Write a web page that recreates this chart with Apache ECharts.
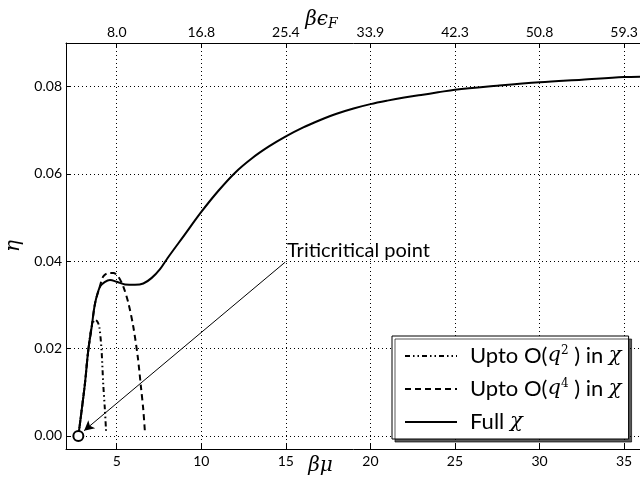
<!DOCTYPE html>
<html>
<head>
<meta charset="utf-8">
<script src="https://cdn.jsdelivr.net/npm/echarts@6.0.0/dist/echarts.min.js"></script>
<style>
  html, body { margin: 0; padding: 0; background: #fff; }
  #chart { width: 640px; height: 481px; }
</style>
</head>
<body>
<div id="chart"></div>
<script>
// bottom axis: beta*mu, top axis: beta*eps_F (same tick positions)
var muTicks = [5, 10, 15, 20, 25, 30, 35];
var epsLabels = ["8.0", "16.8", "25.4", "33.9", "42.3", "50.8", "59.3"];
var etaTicks = [0, 0.02, 0.04, 0.06, 0.08];

// Full chi
var muFull = [2.73, 2.93, 3.12, 3.32, 3.52, 3.72, 4.01, 4.31, 4.6, 5.0, 5.49, 6.08, 6.57, 7.07, 7.56, 8, 9, 10, 11, 12, 13, 14, 15, 16, 17, 18, 19, 20, 21, 22, 23, 24, 25, 27.5, 30, 32.5, 35, 36];
var etaFull = [0, 0.006, 0.012, 0.0197, 0.025, 0.0304, 0.0342, 0.0353, 0.0357, 0.0353, 0.0347, 0.0346, 0.0349, 0.0362, 0.0382, 0.0407, 0.046, 0.0513, 0.0561, 0.0603, 0.0636, 0.0663, 0.0686, 0.0706, 0.0723, 0.0738, 0.075, 0.076, 0.0768, 0.0775, 0.0781, 0.0787, 0.0793, 0.0802, 0.081, 0.0816, 0.0822, 0.0823];

// up to O(q^2)
var muQ2 = [2.73, 2.93, 3.12, 3.32, 3.52, 3.72, 3.85, 3.97, 4.1, 4.2, 4.3, 4.37];
var etaQ2 = [0, 0.006, 0.012, 0.0197, 0.025, 0.0266, 0.0262, 0.025, 0.0197, 0.012, 0.006, 0.001];

// up to O(q^4)
var muQ4 = [2.73, 2.93, 3.12, 3.32, 3.52, 3.72, 3.97, 4.2, 4.5, 4.8, 5.09, 5.39, 5.69, 5.98, 6.24, 6.43, 6.57, 6.67];
var etaQ4 = [0, 0.006, 0.012, 0.0197, 0.025, 0.0304, 0.0338, 0.0365, 0.0373, 0.0373, 0.0365, 0.0342, 0.0304, 0.025, 0.0182, 0.0113, 0.006, 0.0007];

var tricritical = [2.73, 0];
var arrowFrom = [14.96, 0.0398];
var arrowTo = [3.07, 0.0012];

var seriesNames = ["q2", "q4", "full"];
var legendText = {
  q2: "{a|Upto O(}{i|q}{s|2}{t| ) in }{i|χ}",
  q4: "{a|Upto O(}{i|q}{s|4}{t| ) in }{i|χ}",
  full: "{a|Full }{i|χ}"
};

function pairs(xs, ys) {
  return xs.map(function (x, i) { return [x, ys[i]]; });
}

var sans = "Lato";
var serif = "DejaVu Serif";

var axisCommon = {
  type: "value",
  nameMoveOverlap: false,
  axisLine: { show: true, onZero: false, lineStyle: { color: "#000", width: 1 } },
  axisTick: { show: true, inside: true, length: 5, lineStyle: { color: "#000" } },
  axisLabel: { color: "#000", fontFamily: sans, fontSize: 14 },
  splitLine: { show: true, lineStyle: { color: "#000", width: 1, type: [1, 3] } }
};

var chart = echarts.init(document.getElementById("chart"), null, { renderer: "canvas" });

chart.setOption({
  animation: false,
  backgroundColor: "#fff",
  grid: { left: 66, top: 43, width: 575, height: 406, containLabel: false, outerBoundsMode: "none" },
  xAxis: [
    Object.assign({}, axisCommon, {
      position: "bottom",
      min: 2, max: 36,
      axisTick: Object.assign({}, axisCommon.axisTick, { customValues: muTicks }),
      axisLabel: Object.assign({}, axisCommon.axisLabel, { customValues: muTicks, margin: 5 }),
      name: "βμ",
      nameLocation: "middle",
      nameGap: 7,
      nameTextStyle: { fontFamily: serif, fontStyle: "italic", fontSize: 20, color: "#000", padding: [0, 66, 0, 0] }
    }),
    Object.assign({}, axisCommon, {
      position: "top",
      min: 2, max: 36,
      splitLine: { show: false },
      axisTick: Object.assign({}, axisCommon.axisTick, { customValues: muTicks }),
      axisLabel: Object.assign({}, axisCommon.axisLabel, {
        customValues: muTicks,
        margin: 4,
        formatter: function (v) { return epsLabels[muTicks.indexOf(v)]; }
      }),
      name: "{b|βϵ}{f|F}",
      nameLocation: "middle",
      nameGap: 12,
      nameTextStyle: {
        padding: [0, 64, 0, 0],
        rich: {
          b: { fontFamily: serif, fontStyle: "italic", fontSize: 20, color: "#000" },
          f: { fontFamily: serif, fontStyle: "italic", fontSize: 14, color: "#000", verticalAlign: "bottom", padding: [8, 0, 0, 0] }
        }
      }
    })
  ],
  yAxis: [
    Object.assign({}, axisCommon, {
      min: -0.003, max: 0.09,
      axisTick: Object.assign({}, axisCommon.axisTick, { customValues: etaTicks }),
      axisLabel: Object.assign({}, axisCommon.axisLabel, {
        customValues: etaTicks,
        margin: 4,
        formatter: function (v) { return v.toFixed(2); }
      }),
      name: "η",
      nameLocation: "middle",
      nameGap: 42,
      nameTextStyle: { fontFamily: serif, fontStyle: "italic", fontSize: 20, color: "#000" }
    })
  ],
  legend: {
    data: seriesNames,
    orient: "vertical",
    left: 392,
    top: 336,
    padding: [9, 7, 6, 12],
    itemGap: 11,
    itemWidth: 52,
    itemHeight: 21,
    backgroundColor: "#fff",
    borderColor: "#000",
    borderWidth: 1,
    borderRadius: 0,
    shadowColor: "rgba(0,0,0,0.65)",
    shadowBlur: 0,
    shadowOffsetX: 3,
    shadowOffsetY: 3,
    selectedMode: false,
    itemStyle: { color: "rgba(0,0,0,0)", borderColor: "rgba(0,0,0,0)", borderWidth: 0, opacity: 0 },
    formatter: function (name) { return legendText[name]; },
    textStyle: {
      rich: {
        a: { fontFamily: sans, fontSize: 22, color: "#000", padding: [0, 0, 0, 8] },
        t: { fontFamily: sans, fontSize: 22, color: "#000" },
        i: { fontFamily: serif, fontStyle: "italic", fontSize: 21, color: "#000" },
        s: { fontFamily: serif, fontSize: 12, color: "#000", verticalAlign: "top" }
      }
    }
  },
  graphic: [
    {
      type: "text",
      left: 287,
      top: 241,
      style: { text: "Triticritical point", fontFamily: sans, fontSize: 20, fill: "#000" }
    }
  ],
  series: [
    {
      name: "q2",
      type: "line",
      data: pairs(muQ2, etaQ2),
      symbol: "none",
      smooth: 0.3,
      lineStyle: { color: "#000", width: 2, type: [5, 3, 1.5, 3, 1.5, 3] },
      z: 3
    },
    {
      name: "q4",
      type: "line",
      data: pairs(muQ4, etaQ4),
      symbol: "none",
      smooth: 0.3,
      lineStyle: { color: "#000", width: 2, type: [6, 4] },
      z: 3
    },
    {
      name: "full",
      type: "line",
      data: pairs(muFull, etaFull),
      symbol: "none",
      smooth: 0.35,
      lineStyle: { color: "#000", width: 2, type: "solid" },
      z: 4,
      markLine: {
        silent: true,
        symbol: ["none", "arrow"],
        symbolSize: [8, 10],
        label: { show: false },
        lineStyle: { color: "#000", width: 1, type: "solid" },
        data: [[{ coord: arrowFrom }, { coord: arrowTo }]]
      }
    },
    {
      name: "tricritical",
      type: "scatter",
      data: [tricritical],
      symbol: "circle",
      symbolSize: 10,
      itemStyle: { color: "#fff", borderColor: "#000", borderWidth: 2, opacity: 1 },
      z: 6
    }
  ]
});
</script>
</body>
</html>
